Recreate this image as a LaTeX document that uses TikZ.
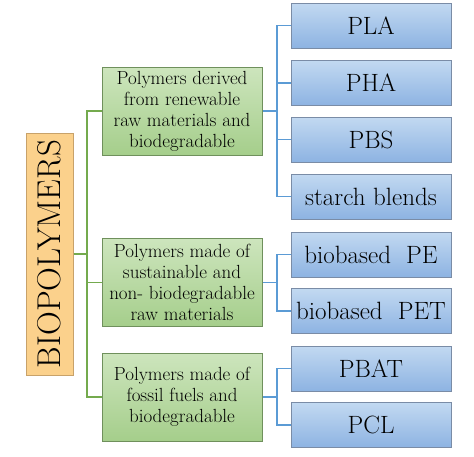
\documentclass[tikz,border=0pt]{standalone}
\usepackage{tikz}
\usetikzlibrary{positioning}
\definecolor{catblue}{HTML}{8DB3E2}
\definecolor{catbluetop}{HTML}{C2D9F1}
\definecolor{catblueedge}{HTML}{7A8CA6}
\definecolor{grpgreen}{HTML}{A5CE8B}
\definecolor{grpgreentop}{HTML}{CDE5BD}
\definecolor{grpgreenedge}{HTML}{6F905C}
\definecolor{rootorange}{HTML}{FBD18C}
\definecolor{rootedge}{HTML}{C8A26A}
\definecolor{glink}{HTML}{74AA4E}
\definecolor{blink}{HTML}{5B9BD5}

\begin{document}
\begin{tikzpicture}[x=1pt,y=-1pt,line cap=round,
  root/.style={draw=rootedge,line width=1pt,fill=rootorange,minimum width=47pt,minimum height=242pt,inner sep=0pt},
  grp/.style={draw=grpgreenedge,line width=1pt,top color=grpgreentop,bottom color=grpgreen,minimum width=160pt,minimum height=88pt,inner sep=0pt,align=center,font=\fontsize{19}{21}\selectfont},
  cat/.style={draw=catblueedge,line width=1pt,top color=catbluetop,bottom color=catblue,minimum width=160pt,minimum height=45pt,inner sep=0pt,font=\fontsize{25}{28}\selectfont},
  gline/.style={glink,line width=1.8pt,line cap=butt},
  bline/.style={blink,line width=1.8pt,line cap=butt}]
\useasboundingbox (0,0) rectangle (474,456);
% root
\node[root] (bio) at (49.5,254) {\rotatebox{90}{\fontsize{33}{33}\selectfont BIOPOLYMERS}};
% groups
\node[grp] (g1) at (182,111) {Polymers derived\\from renewable\\raw materials and\\biodegradable};
\node[grp] (g2) at (182,282.5) {Polymers made of\\sustainable and\\non- biodegradable\\raw materials};
\node[grp] (g3) at (182,397) {Polymers made of\\fossil fuels and\\biodegradable};
% materials
\node[cat] (pla) at (371,25.5) {PLA};
\node[cat] (pha) at (371,83) {PHA};
\node[cat] (pbs) at (371,139.5) {PBS};
\node[cat] (stb) at (371,196.5) {starch blends};
\node[cat] (bpe) at (371,254.5) {biobased\ \ PE};
\node[cat] (bpet) at (371,311) {biobased\ \ PET};
\node[cat] (pbat) at (371,368.5) {PBAT};
\node[cat] (pcl) at (371,425) {PCL};
% trunks
\coordinate (gt) at (87,0);
\coordinate (bt) at (277,0);
\draw[gline] (g1.west) -- (gt |- g1.west) -- (gt |- g3.west) -- (g3.west);
\draw[gline] (bio.east) -- (gt |- bio.east);
\draw[gline] (g2.west) -- (gt |- g2.west);
\draw[bline] (pla.west) -- (bt |- pla.west) -- (bt |- stb.west) -- (stb.west);
\draw[bline] (g1.east) -- (bt |- g1.east);
\draw[bline] (pha.west) -- (bt |- pha.west);
\draw[bline] (pbs.west) -- (bt |- pbs.west);
\draw[bline] (bpe.west) -- (bt |- bpe.west) -- (bt |- bpet.west) -- (bpet.west);
\draw[bline] (g2.east) -- (bt |- g2.east);
\draw[bline] (pbat.west) -- (bt |- pbat.west) -- (bt |- pcl.west) -- (pcl.west);
\draw[bline] (g3.east) -- (bt |- g3.east);
\end{tikzpicture}
\end{document}
